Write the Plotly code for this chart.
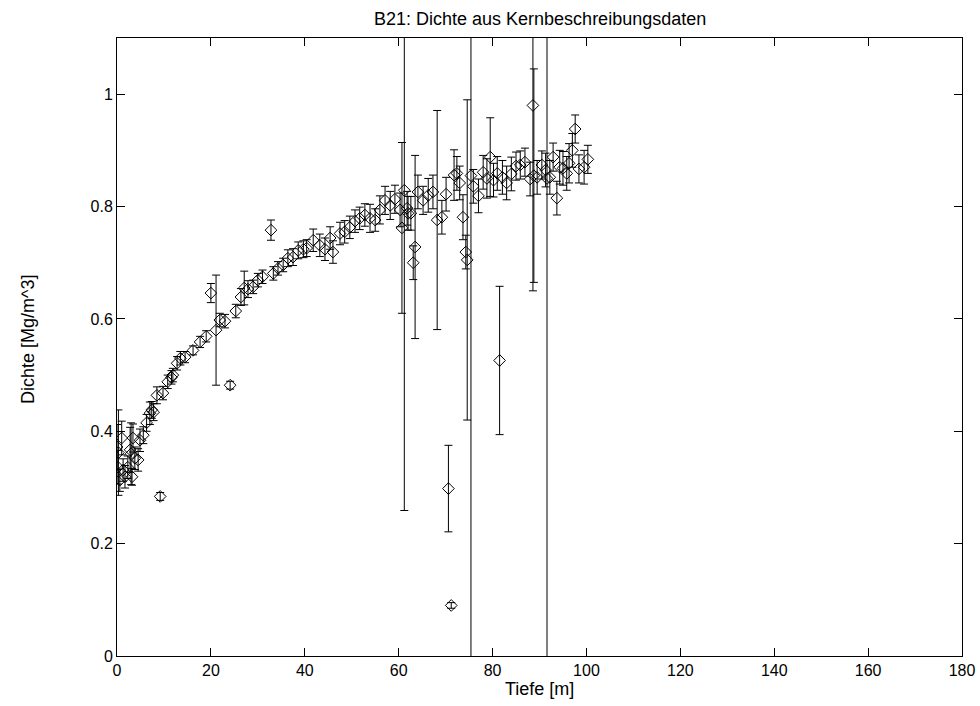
import plotly.graph_objects as go

# Kernbeschreibungsdaten B21: Tiefe [m], Dichte [Mg/m^3], Fehler [Mg/m^3]
tiefe = [
    0.0, 0.2, 0.3, 0.6, 1.0, 1.3, 1.7, 2.3, 2.8, 3.0, 3.2, 3.4, 3.8, 4.5, 4.9,
    5.6, 6.3, 7.0, 7.4, 7.8, 8.5, 9.2, 9.8, 10.8, 11.6, 11.9, 12.8, 13.5, 14.5,
    16.2, 17.7, 19.0, 20.0, 21.1, 21.9, 23.0, 24.1, 25.3, 26.4, 27.1, 27.9,
    29.0, 30.0, 31.0, 32.8, 33.3, 34.3, 35.4, 36.4, 37.5, 38.6, 39.7, 40.4,
    41.8, 43.2, 44.3, 45.4, 46.0, 47.5, 48.5, 49.6, 50.7, 51.7, 52.8, 53.9,
    55.0, 56.0, 57.1, 58.2, 59.2, 60.3, 60.7, 61.2, 61.8, 62.0, 62.6, 63.1,
    63.5, 64.1, 65.2, 66.3, 67.3, 68.2, 69.2, 70.1, 70.6, 71.2, 71.8, 72.4,
    73.0, 73.7, 74.3, 74.6, 75.4, 75.9, 77.0, 78.0, 78.8, 79.5, 80.2, 81.0,
    81.5, 82.1, 83.0, 84.0, 85.0, 85.9, 86.9, 88.0, 88.6, 88.8, 89.5, 90.5,
    91.3, 91.6, 92.2, 92.9, 93.7, 94.3, 95.0, 95.8, 96.3, 97.0, 97.6, 98.4,
    99.5, 100.3,
]
dichte = [
    0.372, 0.336, 0.362, 0.313, 0.388, 0.331, 0.319, 0.336, 0.367, 0.360,
    0.319, 0.388, 0.352, 0.349, 0.384, 0.393, 0.415, 0.432, 0.438, 0.434,
    0.464, 0.284, 0.468, 0.488, 0.496, 0.500, 0.521, 0.530, 0.532, 0.544,
    0.559, 0.569, 0.646, 0.580, 0.598, 0.596, 0.482, 0.614, 0.639, 0.655,
    0.653, 0.657, 0.669, 0.675, 0.758, 0.681, 0.690, 0.696, 0.708, 0.710,
    0.722, 0.724, 0.726, 0.740, 0.731, 0.724, 0.744, 0.719, 0.752, 0.755,
    0.763, 0.774, 0.779, 0.785, 0.779, 0.776, 0.794, 0.811, 0.802, 0.813,
    0.794, 0.762, 0.829, 0.797, 0.788, 0.788, 0.700, 0.728, 0.826, 0.811,
    0.820, 0.826, 0.776, 0.781, 0.822, 0.298, 0.090, 0.856, 0.859, 0.842,
    0.781, 0.719, 0.705, 0.855, 0.836, 0.819, 0.861, 0.850, 0.888, 0.847,
    0.859, 0.526, 0.852, 0.842, 0.858, 0.872, 0.874, 0.879, 0.849, 0.980,
    0.855, 0.852, 0.874, 0.865, 0.850, 0.852, 0.888, 0.815, 0.870, 0.868,
    0.859, 0.877, 0.900, 0.938, 0.867, 0.870, 0.884,
]
fehler = [
    0.040, 0.030, 0.076, 0.020, 0.030, 0.020, 0.020, 0.020, 0.040, 0.055,
    0.015, 0.025, 0.020, 0.020, 0.020, 0.015, 0.015, 0.020, 0.015, 0.015,
    0.015, 0.007, 0.012, 0.012, 0.012, 0.012, 0.012, 0.012, 0.010, 0.008,
    0.010, 0.010, 0.017, 0.098, 0.012, 0.012, 0.007, 0.012, 0.015, 0.030,
    0.015, 0.012, 0.012, 0.012, 0.018, 0.012, 0.012, 0.012, 0.015, 0.015,
    0.015, 0.015, 0.015, 0.020, 0.020, 0.020, 0.020, 0.020, 0.020, 0.020,
    0.020, 0.020, 0.020, 0.020, 0.025, 0.020, 0.025, 0.025, 0.025, 0.025,
    0.030, 0.152, 0.570, 0.030, 0.030, 0.030, 0.030, 0.163, 0.030, 0.025,
    0.030, 0.030, 0.195, 0.030, 0.030, 0.077, 0.005, 0.045, 0.030, 0.030,
    0.040, 0.030, 0.285, 1.000, 0.030, 0.030, 0.030, 0.035, 0.070, 0.030,
    0.030, 0.132, 0.030, 0.030, 0.030, 0.025, 0.025, 0.025, 0.030, 0.330,
    0.190, 0.030, 0.025, 0.030, 0.950, 0.030, 0.025, 0.030, 0.030, 0.030,
    0.030, 0.035, 0.030, 0.025, 0.025, 0.030, 0.025,
]

x_ticks = [0, 20, 40, 60, 80, 100, 120, 140, 160, 180]
y_ticks = [0, 0.2, 0.4, 0.6, 0.8, 1]

FONT = "Liberation Sans, Arial, sans-serif"

fig = go.Figure(
    go.Scatter(
        x=tiefe,
        y=dichte,
        mode="markers",
        marker=dict(symbol="diamond-open", size=9, color="black",
                    line=dict(width=1, color="black")),
        error_y=dict(type="data", array=fehler, visible=True,
                     color="black", thickness=1, width=4),
        showlegend=False,
    )
)

axis_common = dict(
    showline=True, linecolor="black", linewidth=1, mirror="ticks",
    ticks="inside", ticklen=8, tickcolor="black", tickwidth=1,
    showgrid=False, zeroline=False, automargin=False,
    tickfont=dict(family=FONT, size=16, color="black"),
)

fig.update_xaxes(range=[0, 180], tickvals=x_ticks, **axis_common)
fig.update_yaxes(range=[0, 1.1], tickvals=y_ticks, **axis_common)

fig.update_layout(
    width=980, height=706,
    margin=dict(l=117, r=18, t=38, b=50, autoexpand=False),
    paper_bgcolor="white", plot_bgcolor="white",
    font=dict(family=FONT, size=16, color="black"),
    annotations=[
        dict(text="B21: Dichte aus Kernbeschreibungsdaten",
             xref="paper", yref="paper", x=0.5, y=1,
             xanchor="center", yanchor="bottom", yshift=7,
             showarrow=False, font=dict(size=18)),
        dict(text="Tiefe [m]",
             xref="paper", yref="paper", x=0.5, y=0,
             xanchor="center", yanchor="top", yshift=-21,
             showarrow=False, font=dict(size=18)),
        dict(text="Dichte [Mg/m^3]",
             xref="paper", yref="paper", x=0, y=0.5,
             xanchor="center", yanchor="middle", xshift=-89, yshift=7,
             textangle=-90, showarrow=False, font=dict(size=18)),
    ],
)

fig.write_html("out.html")
